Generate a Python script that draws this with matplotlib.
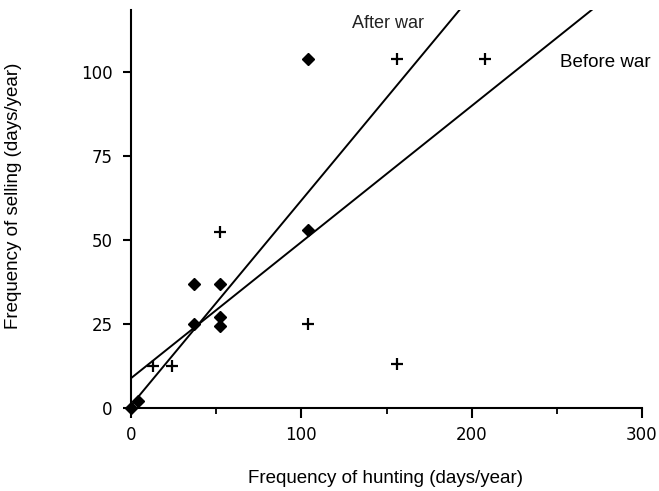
import matplotlib
matplotlib.use("Agg")
import matplotlib.pyplot as plt
import numpy as np

plt.rcParams['font.family'] = ['Liberation Sans', 'DejaVu Sans']

# points (days/year)
after_x = [0, 4, 37, 37, 52, 52, 52, 104, 104]
after_y = [0, 2, 25, 37, 37, 27, 24.5, 53, 104]
before_x = [13, 24, 52, 104, 156, 156, 208]
before_y = [12.5, 12.5, 52.5, 25, 13, 104, 104]

# fitted lines: intercept, slope
after_line = (0.8, 0.61)
before_line = (8.9, 0.405)

x_ticks = [0, 100, 200, 300]
y_ticks = [0, 25, 50, 75, 100]

fig = plt.figure(figsize=(6.59, 4.91), dpi=100)
ax = fig.add_axes([0.199, 0.169, 0.775, 0.811])

xs = np.linspace(0, 300, 200)
ax.plot(xs, after_line[0] + after_line[1] * xs, color='black', lw=1.4)
ax.plot(xs, before_line[0] + before_line[1] * xs, color='black', lw=1.4)

ax.plot(after_x, after_y, 'D', color='black', ms=6.5, clip_on=False, zorder=5)
ax.plot(before_x, before_y, '+', color='black', ms=8, mew=1.6, clip_on=False, zorder=5)

ax.text(130, 114.5, 'After war', fontsize=13, ha='left', va='center', color='#222222')
ax.text(252, 102.7, 'Before war', fontsize=13.5, ha='left', va='center', clip_on=False)

ax.set_xlim(0, 300)
ax.set_ylim(0, 118.5)
ax.set_xticks(x_ticks)
ax.set_xticks([50, 150, 250], minor=True)
ax.set_yticks(y_ticks)

for s in ['top', 'right']:
    ax.spines[s].set_visible(False)
for s in ['left', 'bottom']:
    ax.spines[s].set_linewidth(1.5)

ax.tick_params(axis='x', which='major', direction='out', length=7, width=1.5, pad=6)
ax.tick_params(axis='y', which='major', direction='out', length=6, width=1.5, pad=7.5)
ax.tick_params(axis='x', which='minor', direction='out', length=4, width=1.3)
for lab in ax.get_xticklabels() + ax.get_yticklabels():
    lab.set_fontfamily('DejaVu Sans')
    lab.set_fontsize(12)

ax.set_xlabel('Frequency of hunting (days/year)', fontsize=13.5, va='center')
ax.set_ylabel('Frequency of selling (days/year)', fontsize=13.5, va='center')
ax.xaxis.set_label_coords(0.499, -0.176)
ax.yaxis.set_label_coords(-0.231, 0.533)

fig.savefig('out.png', dpi=100)
